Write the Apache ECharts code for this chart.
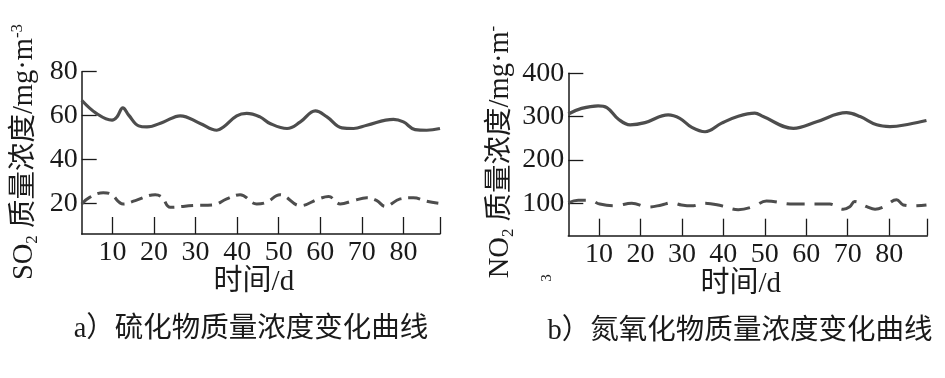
<!DOCTYPE html>
<html>
<head>
<meta charset="utf-8">
<script src="https://cdn.jsdelivr.net/npm/echarts@6/dist/echarts.min.js"></script>
<style>
  html, body { margin: 0; background: #fff; }
  #chart { width: 945px; height: 378px; }
</style>
</head>
<body>
<div id="chart"></div>
<script>
// 读图得到的数据 [天, 浓度]
const so2Solid = [[2.6, 67.0], [6.2, 60.9], [9.9, 57.9], [11.1, 59.4], [12.5, 63.5], [13.9, 60.2], [16.3, 55.3], [18.3, 54.8], [22.3, 57.1], [26.3, 59.9], [31.1, 56.4], [35.1, 53.3], [36.7, 54.8], [39.9, 59.9], [42.3, 61.0], [45.5, 59.4], [47.9, 56.4], [52.0, 54.1], [55.2, 57.1], [58.8, 62.1], [61.6, 59.4], [65.2, 54.4], [68.0, 54.1], [71.2, 55.6], [77.6, 58.3], [80.0, 57.1], [82.8, 53.6], [85.6, 53.3], [88.8, 54.1]]
const so2Dashed = [[2.6, 19.7], [4.6, 22.8], [7.8, 24.8], [9.4, 24.4], [12.6, 19.7], [15.5, 21.2], [20.3, 23.9], [21.9, 22.8], [23.9, 18.2], [29.5, 19.0], [34.3, 19.3], [37.5, 22.0], [40.7, 23.9], [44.7, 19.7], [47.1, 20.5], [50.3, 23.9], [55.2, 18.9], [59.6, 22.0], [62.0, 23.1], [64.8, 19.7], [68.0, 21.2], [71.2, 22.5], [73.6, 21.2], [75.6, 18.6], [79.2, 22.0], [82.4, 22.5], [85.6, 20.9], [88.4, 20.0]]
const no2Solid = [[2.6, 306], [5.8, 319], [9.8, 325], [11.9, 321], [14.7, 294], [17.5, 281], [21.1, 286], [26.7, 304], [29.5, 296], [32.4, 275], [35.6, 265], [39.6, 285], [43.6, 301], [47.6, 308], [49.6, 300], [56.9, 273], [62.5, 288], [69.7, 309], [73.0, 300], [77.0, 281], [80.2, 277], [85.0, 283], [89.0, 291]]
const no2Dashed = [[2.6, 101], [5.0, 107], [7.8, 107], [10.2, 98], [13.9, 94], [17.9, 100], [21.9, 91], [25.1, 96], [27.5, 101], [29.9, 96], [32.4, 94], [35.6, 100], [39.6, 94], [43.6, 85], [47.2, 92], [50.4, 105], [56.9, 98], [63.3, 98], [65.7, 98], [68.9, 86], [70.5, 92], [71.7, 104], [74.6, 92], [76.6, 86], [78.6, 91], [81.8, 108], [83.4, 96], [85.8, 94], [89.0, 96]]

const dayTicks = [10, 20, 30, 40, 50, 60, 70, 80]
const so2Ticks = [20, 40, 60, 80]
const no2Ticks = [100, 200, 300, 400]

const serif = "'Liberation Serif', 'Noto Sans CJK SC', serif"
const ink = '#1a1a1a'
const lineColor = '#4d4d4d'

function xAxisOf (gridIndex, min, max) {
  return {
    type: 'value',
    gridIndex,
    min,
    max,
    name: '时间/d',
    nameLocation: 'middle',
    nameGap: 33,
    nameTextStyle: { fontFamily: serif, fontSize: 29, color: ink, padding: [0, 14, 0, 0] },
    axisLine: { lineStyle: { color: ink, width: 1.5 } },
    axisTick: { inside: true, length: 17, lineStyle: { color: ink, width: 1.3 }, customValues: dayTicks.concat([max]) },
    axisLabel: { customValues: dayTicks, margin: 5, fontFamily: serif, fontSize: 28, color: ink },
    splitLine: { show: false }
  }
}

function yAxisOf (gridIndex, min, max, ticks) {
  return {
    type: 'value',
    gridIndex,
    min,
    max,
    axisLine: { show: true, lineStyle: { color: ink, width: 1.5 } },
    axisTick: { show: true, inside: true, length: 15, lineStyle: { color: ink, width: 1.3 }, customValues: ticks },
    axisLabel: { customValues: ticks, margin: 4, fontFamily: serif, fontSize: 28, color: ink },
    splitLine: { show: false }
  }
}

function lineOf (idx, data, dashed) {
  return {
    type: 'line',
    xAxisIndex: idx,
    yAxisIndex: idx,
    data,
    smooth: 0.4,
    symbol: 'none',
    lineStyle: { color: lineColor, width: dashed ? 3 : 3.2, type: dashed ? (idx === 0 ? [12, 7] : [18, 10]) : 'solid' }
  }
}

const nameRich = {
  t: { fontFamily: serif, fontSize: 28.5, lineHeight: 32, fill: ink },
  sub: { fontFamily: serif, fontSize: 17, lineHeight: 32, verticalAlign: 'bottom', fill: ink },
  sup: { fontFamily: serif, fontSize: 17, lineHeight: 32, verticalAlign: 'top', fill: ink }
}

const chart = echarts.init(document.getElementById('chart'))
chart.setOption({
  animation: false,
  backgroundColor: '#fff',
  grid: [
    { left: 81.7, top: 71.7, width: 358.3, height: 162.3 },
    { left: 568.3, top: 73.3, width: 359, height: 162.4 }
  ],
  xAxis: [xAxisOf(0, 2.6, 88.8), xAxisOf(1, 2.6, 89.2)],
  yAxis: [yAxisOf(0, 6, 80, so2Ticks), yAxisOf(1, 25, 400, no2Ticks)],
  series: [
    lineOf(0, so2Solid, false),
    lineOf(0, so2Dashed, true),
    lineOf(1, no2Solid, false),
    lineOf(1, no2Dashed, true)
  ],
  graphic: [
    {
      type: 'text', x: 25, y: 152, rotation: Math.PI / 2,
      style: { text: '{t|SO}{sub|2}{t| 质量浓度/mg·m}{sup|-3}', align: 'center', verticalAlign: 'middle', rich: nameRich }
    },
    {
      type: 'text', x: 501, y: 152, rotation: Math.PI / 2,
      style: { text: '{t|NO}{sub|2}{t| 质量浓度/mg·m}{sup|-}', align: 'center', verticalAlign: 'middle', rich: nameRich }
    },
    {
      type: 'text', x: 547, y: 278, rotation: Math.PI / 2,
      style: { text: '3', font: '15px ' + serif, fill: ink, align: 'center', verticalAlign: 'middle' }
    },
    {
      type: 'text', x: 251, y: 330,
      style: { text: 'a）硫化物质量浓度变化曲线', font: '28.5px ' + serif, fill: ink, align: 'center', verticalAlign: 'middle' }
    },
    {
      type: 'text', x: 740, y: 332,
      style: { text: 'b）氮氧化物质量浓度变化曲线', font: '28.5px ' + serif, fill: ink, align: 'center', verticalAlign: 'middle' }
    }
  ]
})
</script>
</body>
</html>
